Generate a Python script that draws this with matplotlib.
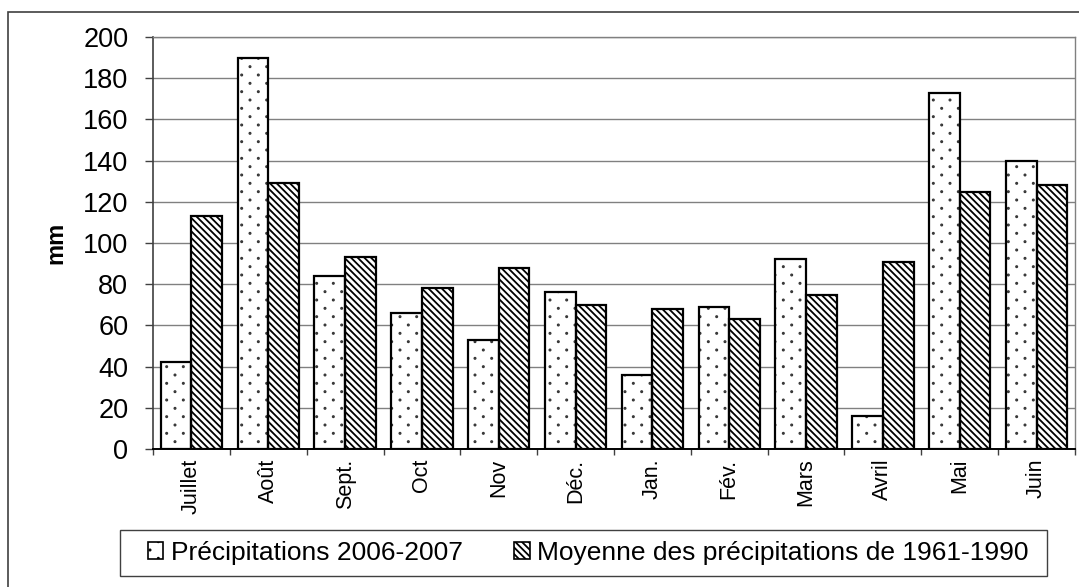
import matplotlib
matplotlib.use("Agg")
import matplotlib.pyplot as plt
import numpy as np
from matplotlib import hatch as mhatch
from matplotlib.path import Path
from matplotlib.patches import Rectangle, Patch

plt.rcParams['font.family'] = ['Liberation Sans', 'DejaVu Sans']
plt.rcParams['hatch.linewidth'] = 1.3

months = ["Juillet", "Août", "Sept.", "Oct", "Nov", "Déc.", "Jan.", "Fév.",
          "Mars", "Avril", "Mai", "Juin"]
precip_2006_2007 = [42, 190, 84, 66, 53, 76, 36, 69, 92, 16, 173, 140]
moyenne_1961_1990 = [113, 129, 93, 78, 88, 70, 68, 63, 75, 91, 125, 128]
yticks = list(range(0, 201, 20))
label_precip = "Précipitations 2006-2007"
label_moy = "Moyenne des précipitations de 1961-1990"
ylabel = "mm"


class SparseDots(mhatch.HatchPatternBase):
    """Staggered sparse dot pattern (like Excel's 10% dotted fill)."""
    ROWS, COLS = 12, 6

    def __init__(self, hatch, density):
        n = hatch.count('.')
        circ = Path.unit_circle()
        self.sv = circ.vertices * 0.006
        self.sc = circ.codes
        self.pts = []
        if n:
            for j in range(-1, self.ROWS + 1):
                for i in range(-1, self.COLS + 1):
                    self.pts.append(((i + 0.5 * (j % 2)) / self.COLS,
                                     j / self.ROWS))
        self.num_vertices = len(self.pts) * len(self.sv)

    def set_vertices_and_codes(self, vertices, codes):
        vparts = [self.sv + p for p in self.pts]
        cparts = [self.sc for _ in self.pts]
        np.concatenate(vparts, out=vertices)
        np.concatenate(cparts, out=codes)


mhatch._hatch_types = [SparseDots if t is mhatch.SmallFilledCircles else t
                       for t in mhatch._hatch_types]

DOTS = "."
STRIPES = "\\" * 5

W, H = 1079, 587
fig = plt.figure(figsize=(W / 100, H / 100), dpi=100)
# outer chart border
fig.patches.append(Rectangle((8 / W, -0.05), 1.2, (H - 12) / H + 0.05,
                             transform=fig.transFigure, fill=False,
                             edgecolor="#404040", linewidth=1.2))
# legend box
fig.patches.append(Rectangle((120 / W, 1 - 576 / H), (1047 - 120) / W,
                             (576 - 530) / H, transform=fig.transFigure,
                             fill=False, edgecolor="#404040", linewidth=1.0))

ax = fig.add_axes([153 / W, 1 - 449 / H, (1075 - 153) / W, (449 - 37) / H])
x = np.arange(len(months))
bw = 0.4

# precip bars: dotted fill (dark dots) then black outline
ax.bar(x - bw / 2, precip_2006_2007, bw, color="white", edgecolor="#333333",
       hatch=DOTS, linewidth=0, zorder=3)
ax.bar(x - bw / 2, precip_2006_2007, bw, fill=False, edgecolor="black",
       linewidth=1.6, zorder=4)
# average bars: diagonal stripes
ax.bar(x + bw / 2, moyenne_1961_1990, bw, color="white", edgecolor="black",
       hatch=STRIPES, linewidth=0, zorder=3)
ax.bar(x + bw / 2, moyenne_1961_1990, bw, fill=False, edgecolor="black",
       linewidth=1.6, zorder=4)

ax.set_xlim(-0.5, len(months) - 0.5)
ax.set_ylim(0, 200)
ax.set_yticks(yticks)
ax.yaxis.grid(True, color="#808080", linewidth=1.0, zorder=0)
ax.set_axisbelow(True)
ax.tick_params(axis="y", labelsize=19.5, length=5.8, width=1, color="#404040",
               pad=12)
ax.set_xticks(x)
ax.set_xticklabels(months, rotation=90, fontsize=15.5)
ax.set_xticks(np.arange(len(months) + 1) - 0.5, minor=True)
ax.tick_params(axis="x", which="major", length=0, pad=7)
ax.tick_params(axis="x", which="minor", length=4, width=1, color="#404040")
for s in ["top", "right"]:
    ax.spines[s].set_color("#808080")
    ax.spines[s].set_linewidth(1.0)
ax.spines["left"].set_color("#404040")
ax.spines["left"].set_linewidth(1.2)
ax.spines["bottom"].set_color("black")
ax.spines["bottom"].set_linewidth(1.4)

ax.set_ylabel(ylabel, fontsize=17, fontweight="bold")
ax.yaxis.set_label_coords((67 - 153) / (1075 - 153), 0.5)

handles = [Patch(facecolor="white", edgecolor="black", hatch=DOTS,
                 linewidth=1.2, label=label_precip),
           Patch(facecolor="white", edgecolor="black", hatch=STRIPES,
                 linewidth=1.2, label=label_moy)]
leg = fig.legend(handles=handles, loc="center",
                 bbox_to_anchor=(588 / W, 1 - 553 / H),
                 ncol=2, fontsize=19, frameon=False,
                 handlelength=0.6, handleheight=0.6,
                 handletextpad=0.27, columnspacing=1.95, borderpad=0.2)

fig.savefig("out.png", dpi=100)
